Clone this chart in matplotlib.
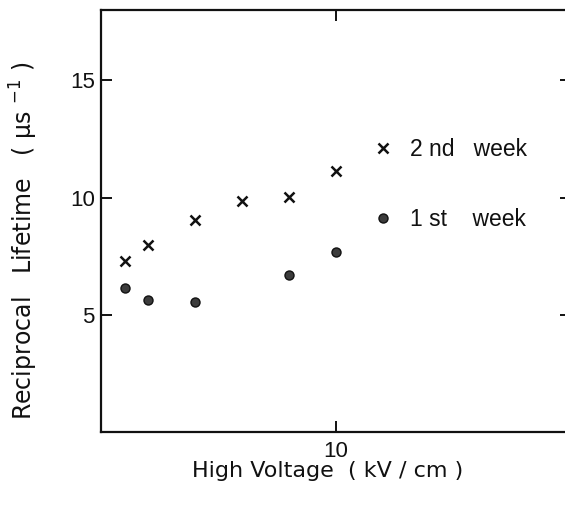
import matplotlib
matplotlib.use("Agg")
import matplotlib.pyplot as plt

# Data
voltage_2nd = [1, 2, 4, 6, 8, 10]
rate_2nd = [7.32, 8.0, 9.07, 9.84, 10.01, 11.15]
voltage_1st = [1, 2, 4, 8, 10]
rate_1st = [6.16, 5.65, 5.55, 6.69, 7.68]
series_labels = ["2 nd   week", "1 st    week"]
x_ticks = [10]
y_ticks = [5, 10, 15]

plt.rcParams['font.family'] = ['Liberation Sans', 'DejaVu Sans']

fig = plt.figure(figsize=(5.65, 5.05), dpi=100)
W, H = 565, 505
ax = fig.add_axes([101 / W, (H - 432.3) / H, 470 / W, 422.3 / H])

h2, = ax.plot(voltage_2nd, rate_2nd, linestyle='none', marker='x', markersize=7.5,
              markeredgewidth=1.8, color='#111111')
h1, = ax.plot(voltage_1st, rate_1st, linestyle='none', marker='o', markersize=6.5,
              markerfacecolor='#3c3c3c', markeredgecolor='#111111', markeredgewidth=1.0)

ax.set_xlim(0, 20)
ax.set_ylim(0, 18)
ax.set_xticks(x_ticks)
ax.set_yticks(y_ticks)
ax.tick_params(direction='in', length=8, width=1.4, top=True, right=True,
               labelsize=16, colors='#111111')
ax.tick_params(axis='y', pad=4.5)
ax.tick_params(axis='x', pad=6)
for s in ax.spines.values():
    s.set_linewidth(1.6)
    s.set_color('#111111')

leg = ax.legend([h2, h1], series_labels, loc='upper left',
                bbox_to_anchor=(0.5757, 0.698), frameon=False, borderpad=0,
                borderaxespad=0, handlelength=1.0, handletextpad=0.677,
                labelspacing=2.07, fontsize=16.5)
for t in leg.get_texts():
    t.set_color('#111111')

fig.text(328 / W, 1 - 476.7 / H, "High Voltage  ( kV / cm )", ha='center', va='baseline',
         fontsize=16, color='#111111', family='DejaVu Sans')
fig.text(33 / W, 1 - 241 / H, "Reciprocal   Lifetime   ( \u00b5s $^{-1}$ )", ha='center',
         va='baseline', rotation=90, rotation_mode='anchor', fontsize=17,
         color='#111111', family='DejaVu Sans')

fig.savefig("out.png", dpi=100)
